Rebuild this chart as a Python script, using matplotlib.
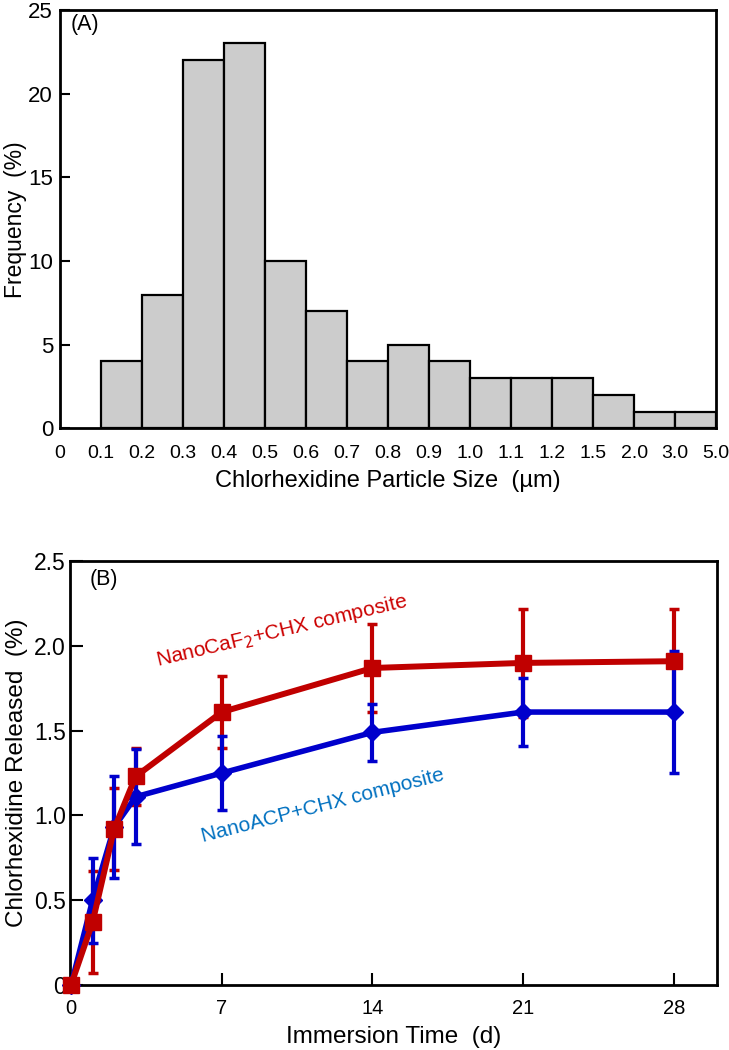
import matplotlib.pyplot as plt
import numpy as np

plt.rcParams['font.family'] = ['Liberation Sans', 'DejaVu Sans']

# (A) histogram data
size_labels = ['0', '0.1', '0.2', '0.3', '0.4', '0.5', '0.6', '0.7', '0.8', '0.9',
               '1.0', '1.1', '1.2', '1.5', '2.0', '3.0', '5.0']
frequency = [4, 8, 22, 23, 10, 7, 4, 5, 4, 3, 3, 3, 2, 1, 1]

# (B) release data
days = [0, 1, 2, 3, 7, 14, 21, 28]
caf2_mean = [0.0, 0.37, 0.92, 1.23, 1.61, 1.87, 1.90, 1.91]
caf2_sd = [0.0, 0.30, 0.24, 0.17, 0.21, 0.26, 0.32, 0.31]
acp_mean = [0.0, 0.50, 0.93, 1.11, 1.25, 1.49, 1.61, 1.61]
acp_sd = [0.0, 0.25, 0.30, 0.28, 0.22, 0.17, 0.20, 0.36]

red = '#C00000'
blue = '#0000CC'

fig = plt.figure(figsize=(7.29, 10.5), dpi=100)
axA = fig.add_axes([0.0823, 0.592, 0.9, 0.3985])
axB = fig.add_axes([0.096, 0.062, 0.8875, 0.4035])

# ---- panel A
pos = np.arange(1, len(frequency) + 1)
axA.bar(pos + 0.5, frequency, width=1.0, color='#CCCCCC', edgecolor='black', linewidth=1.6)
axA.set_xlim(0, 16)
axA.set_ylim(0, 25)
axA.set_xticks(np.arange(len(size_labels)))
axA.set_xticklabels(size_labels, fontsize=14)
axA.tick_params(axis='x', length=0, pad=12)
axA.set_yticks([0, 5, 10, 15, 20, 25])
axA.tick_params(axis='y', direction='in', length=7, width=1.5, pad=5, labelsize=16)
axA.set_ylabel('Frequency  (%)', fontsize=16.5, labelpad=1)
axA.set_xlabel('Chlorhexidine Particle Size  (µm)', fontsize=17, labelpad=6)
axA.text(0.016, 0.99, '(A)', transform=axA.transAxes, fontsize=15.5, va='top')
for s in axA.spines.values():
    s.set_linewidth(2)

# ---- panel B
axB.errorbar(days, caf2_mean, yerr=caf2_sd, fmt='none', ecolor=red, elinewidth=3,
             capsize=3.5, capthick=2.5, clip_on=False, zorder=2)
axB.errorbar(days, acp_mean, yerr=acp_sd, fmt='none', ecolor=blue, elinewidth=3,
             capsize=3.5, capthick=2.5, clip_on=False, zorder=3)
axB.plot(days, acp_mean, color=blue, marker='D', markersize=9, linewidth=4,
         clip_on=False, zorder=4)
axB.plot(days, caf2_mean, color=red, marker='s', markersize=12, linewidth=4.3,
         clip_on=False, zorder=5)
axB.set_xlim(-0.05, 30)
axB.set_ylim(0, 2.5)
axB.set_xticks([0, 7, 14, 21, 28])
axB.set_yticks([0, 0.5, 1.0, 1.5, 2.0, 2.5])
axB.set_yticklabels(['0', '0.5', '1.0', '1.5', '2.0', '2.5'])
axB.tick_params(direction='in', length=9, width=1.5, labelsize=16.5)
axB.tick_params(axis='y', pad=3)
axB.tick_params(axis='x', pad=10, labelsize=14.5)
axB.set_ylabel('Chlorhexidine Released  (%)', fontsize=17.5, labelpad=4)
axB.set_xlabel('Immersion Time  (d)', fontsize=17.5, labelpad=6)
axB.text(0.03, 0.982, '(B)', transform=axB.transAxes, fontsize=15.5, va='top')
axB.text(9.77, 2.09, r'NanoCaF$_2$+CHX composite', color='#CC0000', fontsize=15,
         rotation=13.4, ha='center', va='center')
axB.text(11.7, 1.06, 'NanoACP+CHX composite', color='#0070C0', fontsize=15,
         rotation=14.4, ha='center', va='center')
for s in axB.spines.values():
    s.set_linewidth(2)

plt.savefig('out.png', dpi=100)
